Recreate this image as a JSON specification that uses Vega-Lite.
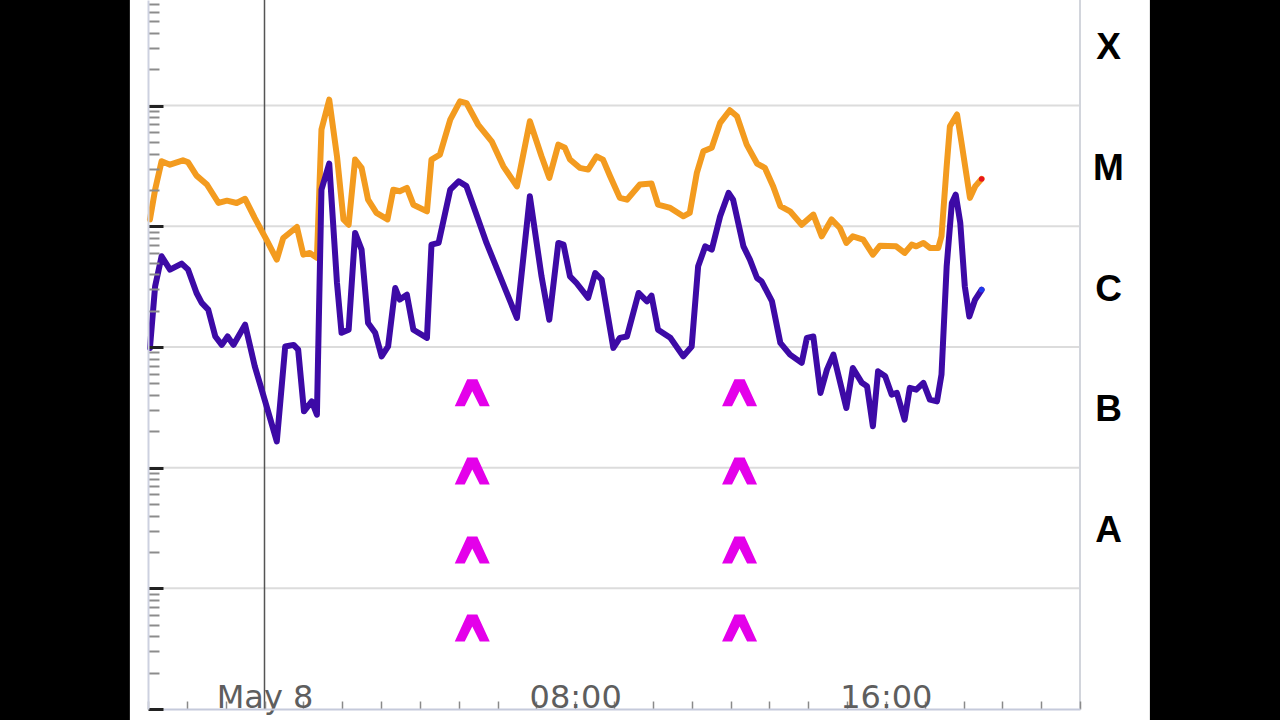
{
  "$schema": "https://vega.github.io/schema/vega-lite/v6.json",
  "autosize": {"type": "none"},
  "width": 932,
  "height": 709,
  "padding": {"left": 148, "right": 200, "top": 0, "bottom": 11},
  "background": "black",
  "config": {"view": {"stroke": null}},
  "datasets": {
    "panel": [{"id": 1}],
    "xrs_long": [
      {"time": "2024-05-07T21:03", "flux": 1.14e-5},
      {"time": "2024-05-07T21:11", "flux": 2.01e-5},
      {"time": "2024-05-07T21:21", "flux": 3.46e-5},
      {"time": "2024-05-07T21:34", "flux": 3.24e-5},
      {"time": "2024-05-07T21:54", "flux": 3.52e-5},
      {"time": "2024-05-07T22:02", "flux": 3.39e-5},
      {"time": "2024-05-07T22:15", "flux": 2.63e-5},
      {"time": "2024-05-07T22:31", "flux": 2.22e-5},
      {"time": "2024-05-07T22:49", "flux": 1.56e-5},
      {"time": "2024-05-07T23:02", "flux": 1.63e-5},
      {"time": "2024-05-07T23:17", "flux": 1.56e-5},
      {"time": "2024-05-07T23:30", "flux": 1.69e-5},
      {"time": "2024-05-07T23:45", "flux": 1.17e-5},
      {"time": "2024-05-08T00:03", "flux": 7.75e-6},
      {"time": "2024-05-08T00:19", "flux": 5.29e-6},
      {"time": "2024-05-08T00:29", "flux": 8.0e-6},
      {"time": "2024-05-08T00:50", "flux": 9.87e-6},
      {"time": "2024-05-08T01:00", "flux": 5.82e-6},
      {"time": "2024-05-08T01:10", "flux": 6.01e-6},
      {"time": "2024-05-08T01:21", "flux": 5.47e-6},
      {"time": "2024-05-08T01:28", "flux": 6.33e-5},
      {"time": "2024-05-08T01:40", "flux": 1.12e-4},
      {"time": "2024-05-08T01:52", "flux": 3.8e-5},
      {"time": "2024-05-08T02:02", "flux": 1.14e-5},
      {"time": "2024-05-08T02:10", "flux": 1.03e-5},
      {"time": "2024-05-08T02:20", "flux": 3.57e-5},
      {"time": "2024-05-08T02:30", "flux": 3.05e-5},
      {"time": "2024-05-08T02:40", "flux": 1.66e-5},
      {"time": "2024-05-08T02:53", "flux": 1.29e-5},
      {"time": "2024-05-08T03:10", "flux": 1.14e-5},
      {"time": "2024-05-08T03:19", "flux": 2.01e-5},
      {"time": "2024-05-08T03:29", "flux": 1.95e-5},
      {"time": "2024-05-08T03:40", "flux": 2.08e-5},
      {"time": "2024-05-08T03:50", "flux": 1.51e-5},
      {"time": "2024-05-08T04:11", "flux": 1.33e-5},
      {"time": "2024-05-08T04:18", "flux": 3.57e-5},
      {"time": "2024-05-08T04:31", "flux": 3.93e-5},
      {"time": "2024-05-08T04:47", "flux": 7.66e-5},
      {"time": "2024-05-08T05:02", "flux": 1.085e-4},
      {"time": "2024-05-08T05:12", "flux": 1.05e-4},
      {"time": "2024-05-08T05:30", "flux": 6.97e-5},
      {"time": "2024-05-08T05:51", "flux": 5.06e-5},
      {"time": "2024-05-08T06:09", "flux": 3.14e-5},
      {"time": "2024-05-08T06:30", "flux": 2.14e-5},
      {"time": "2024-05-08T06:50", "flux": 7.41e-5},
      {"time": "2024-05-08T07:08", "flux": 3.8e-5},
      {"time": "2024-05-08T07:20", "flux": 2.52e-5},
      {"time": "2024-05-08T07:34", "flux": 4.75e-5},
      {"time": "2024-05-08T07:44", "flux": 4.47e-5},
      {"time": "2024-05-08T07:52", "flux": 3.57e-5},
      {"time": "2024-05-08T08:07", "flux": 3.05e-5},
      {"time": "2024-05-08T08:20", "flux": 2.95e-5},
      {"time": "2024-05-08T08:33", "flux": 3.8e-5},
      {"time": "2024-05-08T08:43", "flux": 3.57e-5},
      {"time": "2024-05-08T08:54", "flux": 2.6e-5},
      {"time": "2024-05-08T09:09", "flux": 1.72e-5},
      {"time": "2024-05-08T09:20", "flux": 1.66e-5},
      {"time": "2024-05-08T09:40", "flux": 2.22e-5},
      {"time": "2024-05-08T09:58", "flux": 2.26e-5},
      {"time": "2024-05-08T10:08", "flux": 1.51e-5},
      {"time": "2024-05-08T10:27", "flux": 1.42e-5},
      {"time": "2024-05-08T10:47", "flux": 1.21e-5},
      {"time": "2024-05-08T10:57", "flux": 1.29e-5},
      {"time": "2024-05-08T11:08", "flux": 2.77e-5},
      {"time": "2024-05-08T11:18", "flux": 4.18e-5},
      {"time": "2024-05-08T11:31", "flux": 4.47e-5},
      {"time": "2024-05-08T11:44", "flux": 7.19e-5},
      {"time": "2024-05-08T11:59", "flux": 9.15e-5},
      {"time": "2024-05-08T12:10", "flux": 8.16e-5},
      {"time": "2024-05-08T12:25", "flux": 4.75e-5},
      {"time": "2024-05-08T12:41", "flux": 3.31e-5},
      {"time": "2024-05-08T12:53", "flux": 3.05e-5},
      {"time": "2024-05-08T13:06", "flux": 2.14e-5},
      {"time": "2024-05-08T13:17", "flux": 1.47e-5},
      {"time": "2024-05-08T13:32", "flux": 1.33e-5},
      {"time": "2024-05-08T13:50", "flux": 1.03e-5},
      {"time": "2024-05-08T14:08", "flux": 1.25e-5},
      {"time": "2024-05-08T14:21", "flux": 8.26e-6},
      {"time": "2024-05-08T14:36", "flux": 1.14e-5},
      {"time": "2024-05-08T14:49", "flux": 9.68e-6},
      {"time": "2024-05-08T14:59", "flux": 7.28e-6},
      {"time": "2024-05-08T15:09", "flux": 8.26e-6},
      {"time": "2024-05-08T15:25", "flux": 7.75e-6},
      {"time": "2024-05-08T15:40", "flux": 5.82e-6},
      {"time": "2024-05-08T15:51", "flux": 6.91e-6},
      {"time": "2024-05-08T16:16", "flux": 6.82e-6},
      {"time": "2024-05-08T16:29", "flux": 6.01e-6},
      {"time": "2024-05-08T16:40", "flux": 7.05e-6},
      {"time": "2024-05-08T16:47", "flux": 6.82e-6},
      {"time": "2024-05-08T16:58", "flux": 7.28e-6},
      {"time": "2024-05-08T17:08", "flux": 6.61e-6},
      {"time": "2024-05-08T17:21", "flux": 6.61e-6},
      {"time": "2024-05-08T17:26", "flux": 8.26e-6},
      {"time": "2024-05-08T17:34", "flux": 3.14e-5},
      {"time": "2024-05-08T17:39", "flux": 6.74e-5},
      {"time": "2024-05-08T17:50", "flux": 8.44e-5},
      {"time": "2024-05-08T17:57", "flux": 4.91e-5},
      {"time": "2024-05-08T18:10", "flux": 1.72e-5},
      {"time": "2024-05-08T18:18", "flux": 2.14e-5},
      {"time": "2024-05-08T18:28", "flux": 2.47e-5}
    ],
    "xrs_short": [
      {"time": "2024-05-07T21:03", "flux": 9.82e-7},
      {"time": "2024-05-07T21:11", "flux": 3.18e-6},
      {"time": "2024-05-07T21:21", "flux": 5.64e-6},
      {"time": "2024-05-07T21:34", "flux": 4.37e-6},
      {"time": "2024-05-07T21:52", "flux": 4.9e-6},
      {"time": "2024-05-07T22:02", "flux": 4.37e-6},
      {"time": "2024-05-07T22:15", "flux": 2.8e-6},
      {"time": "2024-05-07T22:23", "flux": 2.32e-6},
      {"time": "2024-05-07T22:33", "flux": 2.04e-6},
      {"time": "2024-05-07T22:44", "flux": 1.22e-6},
      {"time": "2024-05-07T22:54", "flux": 1.04e-6},
      {"time": "2024-05-07T23:03", "flux": 1.22e-6},
      {"time": "2024-05-07T23:12", "flux": 1.04e-6},
      {"time": "2024-05-07T23:30", "flux": 1.53e-6},
      {"time": "2024-05-07T23:45", "flux": 6.91e-7},
      {"time": "2024-05-08T00:01", "flux": 3.54e-7},
      {"time": "2024-05-08T00:19", "flux": 1.65e-7},
      {"time": "2024-05-08T00:32", "flux": 1.01e-6},
      {"time": "2024-05-08T00:45", "flux": 1.04e-6},
      {"time": "2024-05-08T00:52", "flux": 9.5e-7},
      {"time": "2024-05-08T01:01", "flux": 2.93e-7},
      {"time": "2024-05-08T01:13", "flux": 3.54e-7},
      {"time": "2024-05-08T01:21", "flux": 2.75e-7},
      {"time": "2024-05-08T01:28", "flux": 2.01e-5},
      {"time": "2024-05-08T01:40", "flux": 3.31e-5},
      {"time": "2024-05-08T01:52", "flux": 3.39e-6},
      {"time": "2024-05-08T01:59", "flux": 1.31e-6},
      {"time": "2024-05-08T02:10", "flux": 1.39e-6},
      {"time": "2024-05-08T02:20", "flux": 8.81e-6},
      {"time": "2024-05-08T02:30", "flux": 6.4e-6},
      {"time": "2024-05-08T02:40", "flux": 1.58e-6},
      {"time": "2024-05-08T02:51", "flux": 1.31e-6},
      {"time": "2024-05-08T03:01", "flux": 8.36e-7},
      {"time": "2024-05-08T03:11", "flux": 1.01e-6},
      {"time": "2024-05-08T03:22", "flux": 3.08e-6},
      {"time": "2024-05-08T03:29", "flux": 2.47e-6},
      {"time": "2024-05-08T03:40", "flux": 2.71e-6},
      {"time": "2024-05-08T03:50", "flux": 1.39e-6},
      {"time": "2024-05-08T04:11", "flux": 1.19e-6},
      {"time": "2024-05-08T04:18", "flux": 7.05e-6},
      {"time": "2024-05-08T04:29", "flux": 7.28e-6},
      {"time": "2024-05-08T04:47", "flux": 2.01e-5},
      {"time": "2024-05-08T05:00", "flux": 2.36e-5},
      {"time": "2024-05-08T05:12", "flux": 2.15e-5},
      {"time": "2024-05-08T05:43", "flux": 7.28e-6},
      {"time": "2024-05-08T06:30", "flux": 1.74e-6},
      {"time": "2024-05-08T06:50", "flux": 1.77e-5},
      {"time": "2024-05-08T07:08", "flux": 3.85e-6},
      {"time": "2024-05-08T07:20", "flux": 1.68e-6},
      {"time": "2024-05-08T07:34", "flux": 7.28e-6},
      {"time": "2024-05-08T07:42", "flux": 7.05e-6},
      {"time": "2024-05-08T07:52", "flux": 3.85e-6},
      {"time": "2024-05-08T08:02", "flux": 3.39e-6},
      {"time": "2024-05-08T08:20", "flux": 2.55e-6},
      {"time": "2024-05-08T08:31", "flux": 4.1e-6},
      {"time": "2024-05-08T08:41", "flux": 3.61e-6},
      {"time": "2024-05-08T08:59", "flux": 9.82e-7},
      {"time": "2024-05-08T09:09", "flux": 1.19e-6},
      {"time": "2024-05-08T09:20", "flux": 1.22e-6},
      {"time": "2024-05-08T09:38", "flux": 2.8e-6},
      {"time": "2024-05-08T09:51", "flux": 2.39e-6},
      {"time": "2024-05-08T09:58", "flux": 2.66e-6},
      {"time": "2024-05-08T10:08", "flux": 1.39e-6},
      {"time": "2024-05-08T10:27", "flux": 1.19e-6},
      {"time": "2024-05-08T10:47", "flux": 8.36e-7},
      {"time": "2024-05-08T11:00", "flux": 1.01e-6},
      {"time": "2024-05-08T11:10", "flux": 4.66e-6},
      {"time": "2024-05-08T11:21", "flux": 6.82e-6},
      {"time": "2024-05-08T11:31", "flux": 6.4e-6},
      {"time": "2024-05-08T11:44", "flux": 1.21e-5},
      {"time": "2024-05-08T11:57", "flux": 1.89e-5},
      {"time": "2024-05-08T12:04", "flux": 1.66e-5},
      {"time": "2024-05-08T12:20", "flux": 6.82e-6},
      {"time": "2024-05-08T12:30", "flux": 5.29e-6},
      {"time": "2024-05-08T12:41", "flux": 3.73e-6},
      {"time": "2024-05-08T12:48", "flux": 3.5e-6},
      {"time": "2024-05-08T13:04", "flux": 2.4e-6},
      {"time": "2024-05-08T13:17", "flux": 1.08e-6},
      {"time": "2024-05-08T13:32", "flux": 8.64e-7},
      {"time": "2024-05-08T13:50", "flux": 7.38e-7},
      {"time": "2024-05-08T13:58", "flux": 1.19e-6},
      {"time": "2024-05-08T14:08", "flux": 1.22e-6},
      {"time": "2024-05-08T14:19", "flux": 4.16e-7},
      {"time": "2024-05-08T14:29", "flux": 6.49e-7},
      {"time": "2024-05-08T14:39", "flux": 8.64e-7},
      {"time": "2024-05-08T14:59", "flux": 3.12e-7},
      {"time": "2024-05-08T15:09", "flux": 6.7e-7},
      {"time": "2024-05-08T15:23", "flux": 5.04e-7},
      {"time": "2024-05-08T15:31", "flux": 4.72e-7},
      {"time": "2024-05-08T15:40", "flux": 2.2e-7},
      {"time": "2024-05-08T15:48", "flux": 6.28e-7},
      {"time": "2024-05-08T15:59", "flux": 5.71e-7},
      {"time": "2024-05-08T16:09", "flux": 4.03e-7},
      {"time": "2024-05-08T16:17", "flux": 4.16e-7},
      {"time": "2024-05-08T16:29", "flux": 2.5e-7},
      {"time": "2024-05-08T16:37", "flux": 4.58e-7},
      {"time": "2024-05-08T16:47", "flux": 4.43e-7},
      {"time": "2024-05-08T16:58", "flux": 5.04e-7},
      {"time": "2024-05-08T17:08", "flux": 3.66e-7},
      {"time": "2024-05-08T17:19", "flux": 3.54e-7},
      {"time": "2024-05-08T17:26", "flux": 5.9e-7},
      {"time": "2024-05-08T17:34", "flux": 4.66e-6},
      {"time": "2024-05-08T17:42", "flux": 1.56e-5},
      {"time": "2024-05-08T17:48", "flux": 1.83e-5},
      {"time": "2024-05-08T17:55", "flux": 1.07e-5},
      {"time": "2024-05-08T18:02", "flux": 3.18e-6},
      {"time": "2024-05-08T18:09", "flux": 1.79e-6},
      {"time": "2024-05-08T18:18", "flux": 2.47e-6},
      {"time": "2024-05-08T18:28", "flux": 2.98e-6}
    ],
    "latest": [
      {"time": "2024-05-08T18:28", "flux": 2.47e-5, "band": "long"},
      {"time": "2024-05-08T18:28", "flux": 2.98e-6, "band": "short"}
    ],
    "markers": [
      {"time": "2024-05-08T05:21", "flux": 4.18e-7},
      {"time": "2024-05-08T05:21", "flux": 9.38e-8},
      {"time": "2024-05-08T05:21", "flux": 2.08e-8},
      {"time": "2024-05-08T05:21", "flux": 4.69e-9},
      {"time": "2024-05-08T12:14", "flux": 4.18e-7},
      {"time": "2024-05-08T12:14", "flux": 9.38e-8},
      {"time": "2024-05-08T12:14", "flux": 2.08e-8},
      {"time": "2024-05-08T12:14", "flux": 4.69e-9}
    ],
    "decades": [
      {"flux": 1e-8}, {"flux": 1e-7}, {"flux": 1e-6}, {"flux": 1e-5}, {"flux": 1e-4}
    ]
  },
  "resolve": {"axis": {"y": "independent"}},
  "layer": [
    {
      "data": {"name": "panel"},
      "mark": {"type": "rect", "color": "white"},
      "encoding": {
        "x": {
          "datum": {"year": 2024, "month": 5, "date": 7, "hours": 20, "minutes": 32}, "type": "temporal",
          "scale": {"domain": [{"year": 2024, "month": 5, "date": 7, "hours": 21}, {"year": 2024, "month": 5, "date": 8, "hours": 21}], "nice": false}
        },
        "x2": {"datum": {"year": 2024, "month": 5, "date": 8, "hours": 22, "minutes": 48}},
        "y": {"datum": 1e-10, "type": "quantitative", "scale": {"type": "log", "domain": [1e-9, 7.5e-4], "nice": false}, "axis": null},
        "y2": {"datum": 1e-2}
      }
    },
    {
      "data": {"name": "decades"},
      "mark": {"type": "rule", "color": "#dcdcdc", "strokeWidth": 2},
      "encoding": {
        "x": {"datum": {"year": 2024, "month": 5, "date": 7, "hours": 21}, "type": "temporal"},
        "x2": {"datum": {"year": 2024, "month": 5, "date": 8, "hours": 21}},
        "y": {
          "field": "flux", "type": "quantitative",
          "axis": {
            "orient": "right", "values": [3.02e-4, 3.02e-5, 3.02e-6, 3.02e-7, 3.02e-8],
            "labelExpr": "datum.value > 1e-4 ? 'X' : datum.value > 1e-5 ? 'M' : datum.value > 1e-6 ? 'C' : datum.value > 1e-7 ? 'B' : 'A'",
            "domain": false, "ticks": false, "grid": false, "title": null, "zindex": 1, "tickCount": 10,
            "labelFont": "Liberation Sans", "labelFontWeight": "bold", "labelFontSize": 37,
            "labelColor": "black", "labelAlign": "center", "labelBaseline": "middle", "labelPadding": 28
          }
        }
      }
    },
    {
      "data": {"name": "panel"},
      "mark": {"type": "rule", "color": "#d2d5dc", "strokeWidth": 2},
      "encoding": {
        "x": {"datum": {"year": 2024, "month": 5, "date": 8, "hours": 21}, "type": "temporal"}
      }
    },
    {
      "data": {"name": "panel"},
      "mark": {"type": "rule", "color": "#555555", "strokeWidth": 1.5},
      "encoding": {
        "x": {"datum": {"year": 2024, "month": 5, "date": 8, "hours": 0}, "type": "temporal"}
      }
    },
    {
      "data": {"name": "xrs_long"},
      "mark": {"type": "line", "color": "#f39b1f", "strokeWidth": 6, "strokeJoin": "round", "strokeCap": "round"},
      "encoding": {
        "x": {
          "field": "time", "type": "temporal",
          "axis": {
            "orient": "bottom", "title": null, "grid": false, "zindex": 1, "tickCount": 40,
            "values": [
              {"year": 2024, "month": 5, "date": 7, "hours": 21}, {"year": 2024, "month": 5, "date": 7, "hours": 22}, {"year": 2024, "month": 5, "date": 7, "hours": 23},
              {"year": 2024, "month": 5, "date": 8, "hours": 0}, {"year": 2024, "month": 5, "date": 8, "hours": 1}, {"year": 2024, "month": 5, "date": 8, "hours": 2},
              {"year": 2024, "month": 5, "date": 8, "hours": 3}, {"year": 2024, "month": 5, "date": 8, "hours": 4}, {"year": 2024, "month": 5, "date": 8, "hours": 5},
              {"year": 2024, "month": 5, "date": 8, "hours": 6}, {"year": 2024, "month": 5, "date": 8, "hours": 7}, {"year": 2024, "month": 5, "date": 8, "hours": 8},
              {"year": 2024, "month": 5, "date": 8, "hours": 9}, {"year": 2024, "month": 5, "date": 8, "hours": 10}, {"year": 2024, "month": 5, "date": 8, "hours": 11},
              {"year": 2024, "month": 5, "date": 8, "hours": 12}, {"year": 2024, "month": 5, "date": 8, "hours": 13}, {"year": 2024, "month": 5, "date": 8, "hours": 14},
              {"year": 2024, "month": 5, "date": 8, "hours": 15}, {"year": 2024, "month": 5, "date": 8, "hours": 16}, {"year": 2024, "month": 5, "date": 8, "hours": 17},
              {"year": 2024, "month": 5, "date": 8, "hours": 18}, {"year": 2024, "month": 5, "date": 8, "hours": 19}, {"year": 2024, "month": 5, "date": 8, "hours": 20},
              {"year": 2024, "month": 5, "date": 8, "hours": 21}
            ],
            "labelExpr": "hours(datum.value) == 0 ? 'May 8' : (hours(datum.value) == 8 || hours(datum.value) == 16) ? timeFormat(datum.value, '%H:%M') : ''",
            "domainColor": "#c5cadb", "domainWidth": 2,
            "tickColor": "#8a8a8a", "tickSize": -8, "tickWidth": 1.5,
            "labelFont": "DejaVu Sans", "labelFontSize": 32, "labelColor": "#5e5e5e",
            "labelBaseline": "alphabetic", "labelPadding": 6, "labelOverlap": false, "labelFlush": false
          }
        },
        "y": {
          "field": "flux", "type": "quantitative",
          "axis": {
            "orient": "left", "title": null, "labels": false, "grid": false, "zindex": 1, "tickCount": 100,
            "values": [1e-9, 2e-9, 3e-9, 4e-9, 5e-9, 6e-9, 7e-9, 8e-9, 9e-9,
                       1e-8, 2e-8, 3e-8, 4e-8, 5e-8, 6e-8, 7e-8, 8e-8, 9e-8,
                       1e-7, 2e-7, 3e-7, 4e-7, 5e-7, 6e-7, 7e-7, 8e-7, 9e-7,
                       1e-6, 2e-6, 3e-6, 4e-6, 5e-6, 6e-6, 7e-6, 8e-6, 9e-6,
                       1e-5, 2e-5, 3e-5, 4e-5, 5e-5, 6e-5, 7e-5, 8e-5, 9e-5,
                       1e-4, 2e-4, 3e-4, 4e-4, 5e-4, 6e-4, 7e-4],
            "domainColor": "#cdd1e0", "domainWidth": 2,
            "tickSize": {"condition": {"test": "abs(log(datum.value)/LN10 - round(log(datum.value)/LN10)) < 0.01", "value": -15}, "value": -11},
            "tickWidth": {"condition": {"test": "abs(log(datum.value)/LN10 - round(log(datum.value)/LN10)) < 0.01", "value": 3}, "value": 2},
            "tickColor": {"condition": {"test": "abs(log(datum.value)/LN10 - round(log(datum.value)/LN10)) < 0.01", "value": "#222222"}, "value": "#8c8c8c"}
          }
        }
      }
    },
    {
      "data": {"name": "xrs_short"},
      "mark": {"type": "line", "color": "#3d0aa6", "strokeWidth": 6, "strokeJoin": "round", "strokeCap": "round"},
      "encoding": {
        "x": {"field": "time", "type": "temporal"},
        "y": {"field": "flux", "type": "quantitative", "axis": null}
      }
    },
    {
      "data": {"name": "latest"},
      "mark": {"type": "point", "filled": true, "size": 30, "opacity": 1},
      "encoding": {
        "x": {"field": "time", "type": "temporal"},
        "y": {"field": "flux", "type": "quantitative", "axis": null},
        "color": {"field": "band", "type": "nominal", "scale": {"domain": ["long", "short"], "range": ["#e8141e", "#1e3cf0"]}, "legend": null}
      }
    },
    {
      "data": {"name": "markers"},
      "mark": {"type": "point", "filled": true, "opacity": 1, "size": 1225, "color": "#e400ea",
               "shape": "M -1 0.77 L -0.29 -0.77 L 0.29 -0.77 L 1 0.77 L 0.43 0.77 L 0 -0.08 L -0.43 0.77 Z"},
      "encoding": {
        "x": {"field": "time", "type": "temporal"},
        "y": {"field": "flux", "type": "quantitative", "axis": null}
      }
    }
  ]
}
